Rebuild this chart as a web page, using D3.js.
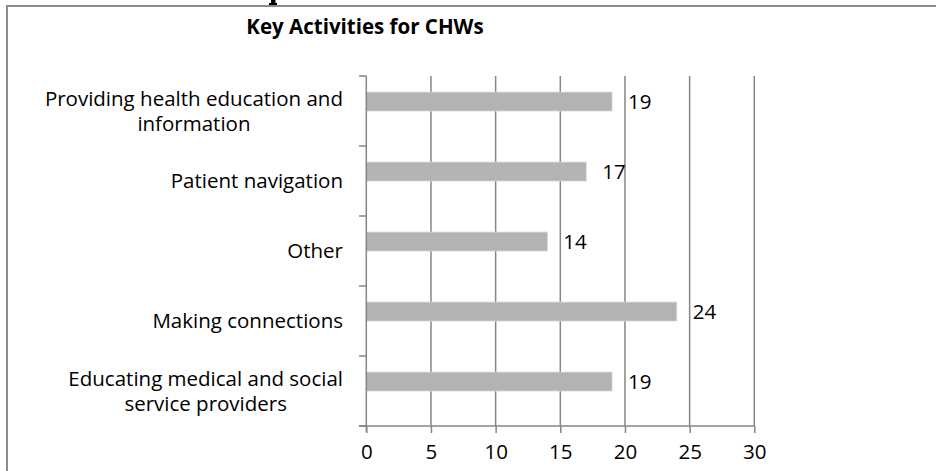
<!DOCTYPE html>
<html lang="en">
<head>
    <meta charset="UTF-8">
    <title>Key Activities for CHWs</title>
    <script src="https://d3js.org/d3.v7.min.js"></script>
    <style>
        body { margin: 0; background: white; }
        text { font-family: "Open Sans", sans-serif; fill: #000; }
    </style>
</head>
<body>
    <div id="chart"></div>

    <script>
        // chart data (top to bottom)
        var categories = [
            "Providing health education and information",
            "Patient navigation",
            "Other",
            "Making connections",
            "Educating medical and social service providers"
        ];
        var counts = [19, 17, 14, 24, 19];
        var xTicks = [0, 5, 10, 15, 20, 25, 30];
        var title = "Key Activities for CHWs";

        var data = categories.map((c, i) => ({ cat: c, value: counts[i] }));

        var W = 936, H = 471;
        var fs = "20.5px";
        var svg = d3.select("#chart").append("svg")
            .attr("width", W)
            .attr("height", H);

        // outer frame (cut off at right and bottom like the source)
        svg.append("path")
            .attr("d", "M7,471 L7,6 L936,6")
            .attr("fill", "none")
            .attr("stroke", "#8c8c8c")
            .attr("stroke-width", 2);

        // bit of a glyph from the page heading poking in above the frame
        svg.append("path")
            .attr("d", "M271,0 L275.5,0 L275.5,3 L277,3 L277,5 L269,5 L269,3 L271,3 Z")
            .attr("fill", "#000");

        svg.append("text")
            .attr("x", 365)
            .attr("y", 34)
            .attr("text-anchor", "middle")
            .style("font-weight", "bold")
            .style("font-size", "20.5px")
            .text(title);

        var x = d3.scaleLinear()
            .domain([0, 30])
            .range([366.3, 754.3]);

        var y = d3.scaleBand()
            .domain(categories)
            .range([76, 426]);

        var barH = y.bandwidth() * 0.27;

        // vertical gridlines
        svg.append("g").selectAll("line")
            .data(xTicks.slice(1))
            .enter().append("line")
            .attr("x1", d => x(d)).attr("x2", d => x(d))
            .attr("y1", 76).attr("y2", 426)
            .attr("stroke", "#868686")
            .attr("stroke-width", 1.5);

        // bars
        svg.append("g").selectAll("rect")
            .data(data)
            .enter().append("rect")
            .attr("x", x(0))
            .attr("y", d => y(d.cat) + y.bandwidth() / 2 - barH)
            .attr("width", d => x(d.value) - x(0))
            .attr("height", barH)
            .attr("fill", "#b3b3b3")
            .attr("stroke", "#d4d4d4")
            .attr("stroke-width", 0.8);

        // value labels
        svg.append("g").selectAll("text")
            .data(data)
            .enter().append("text")
            .attr("x", d => x(d.value) + 16)
            .attr("y", d => y(d.cat) + y.bandwidth() / 2 - barH / 2)
            .attr("dy", "0.35em")
            .style("font-size", fs)
            .text(d => d.value);

        // x axis
        var xAxis = svg.append("g")
            .attr("transform", "translate(0,426)")
            .call(d3.axisBottom(x).tickValues(xTicks).tickSize(7).tickPadding(11));
        xAxis.select(".domain").remove();
        xAxis.selectAll("line").attr("stroke", "#868686").attr("stroke-width", 1.5);
        xAxis.selectAll("text")
            .style("font-size", fs)
            .style("font-family", "'Open Sans', sans-serif");

        svg.append("line")
            .attr("x1", 359).attr("x2", x(30))
            .attr("y1", 426).attr("y2", 426)
            .attr("stroke", "#868686")
            .attr("stroke-width", 1.5);

        // y axis line and category boundary ticks
        svg.append("line")
            .attr("x1", x(0)).attr("x2", x(0))
            .attr("y1", 76).attr("y2", 432)
            .attr("stroke", "#868686")
            .attr("stroke-width", 1.5);

        var bounds = categories.map(c => y(c)).concat([426]);
        svg.append("g").selectAll("line")
            .data(bounds)
            .enter().append("line")
            .attr("x1", 359).attr("x2", x(0))
            .attr("y1", d => d).attr("y2", d => d)
            .attr("stroke", "#868686")
            .attr("stroke-width", 1.5);

        // category labels, wrapped and centred in a right-aligned block
        var maxW = 315, lineH = 25, rightEdge = 343;
        var catG = svg.append("g");
        categories.forEach(function (c) {
            var words = c.split(" "), lines = [], cur = "";
            var probe = catG.append("text").style("font-size", fs);
            words.forEach(function (w) {
                var test = cur ? cur + " " + w : w;
                probe.text(test);
                if (probe.node().getComputedTextLength() > maxW && cur) {
                    lines.push(cur);
                    cur = w;
                } else {
                    cur = test;
                }
            });
            lines.push(cur);
            var widths = lines.map(function (l) {
                probe.text(l);
                return probe.node().getComputedTextLength();
            });
            probe.remove();
            var blockW = d3.max(widths);
            var cx = rightEdge - blockW / 2;
            var cy = y(c) + y.bandwidth() / 2;
            var t = catG.append("text")
                .attr("text-anchor", "middle")
                .style("font-size", fs);
            lines.forEach(function (l, i) {
                t.append("tspan")
                    .attr("x", cx)
                    .attr("y", cy + (i - (lines.length - 1) / 2) * lineH)
                    .attr("dy", "0.35em")
                    .text(l);
            });
        });
    </script>
</body>
</html>
